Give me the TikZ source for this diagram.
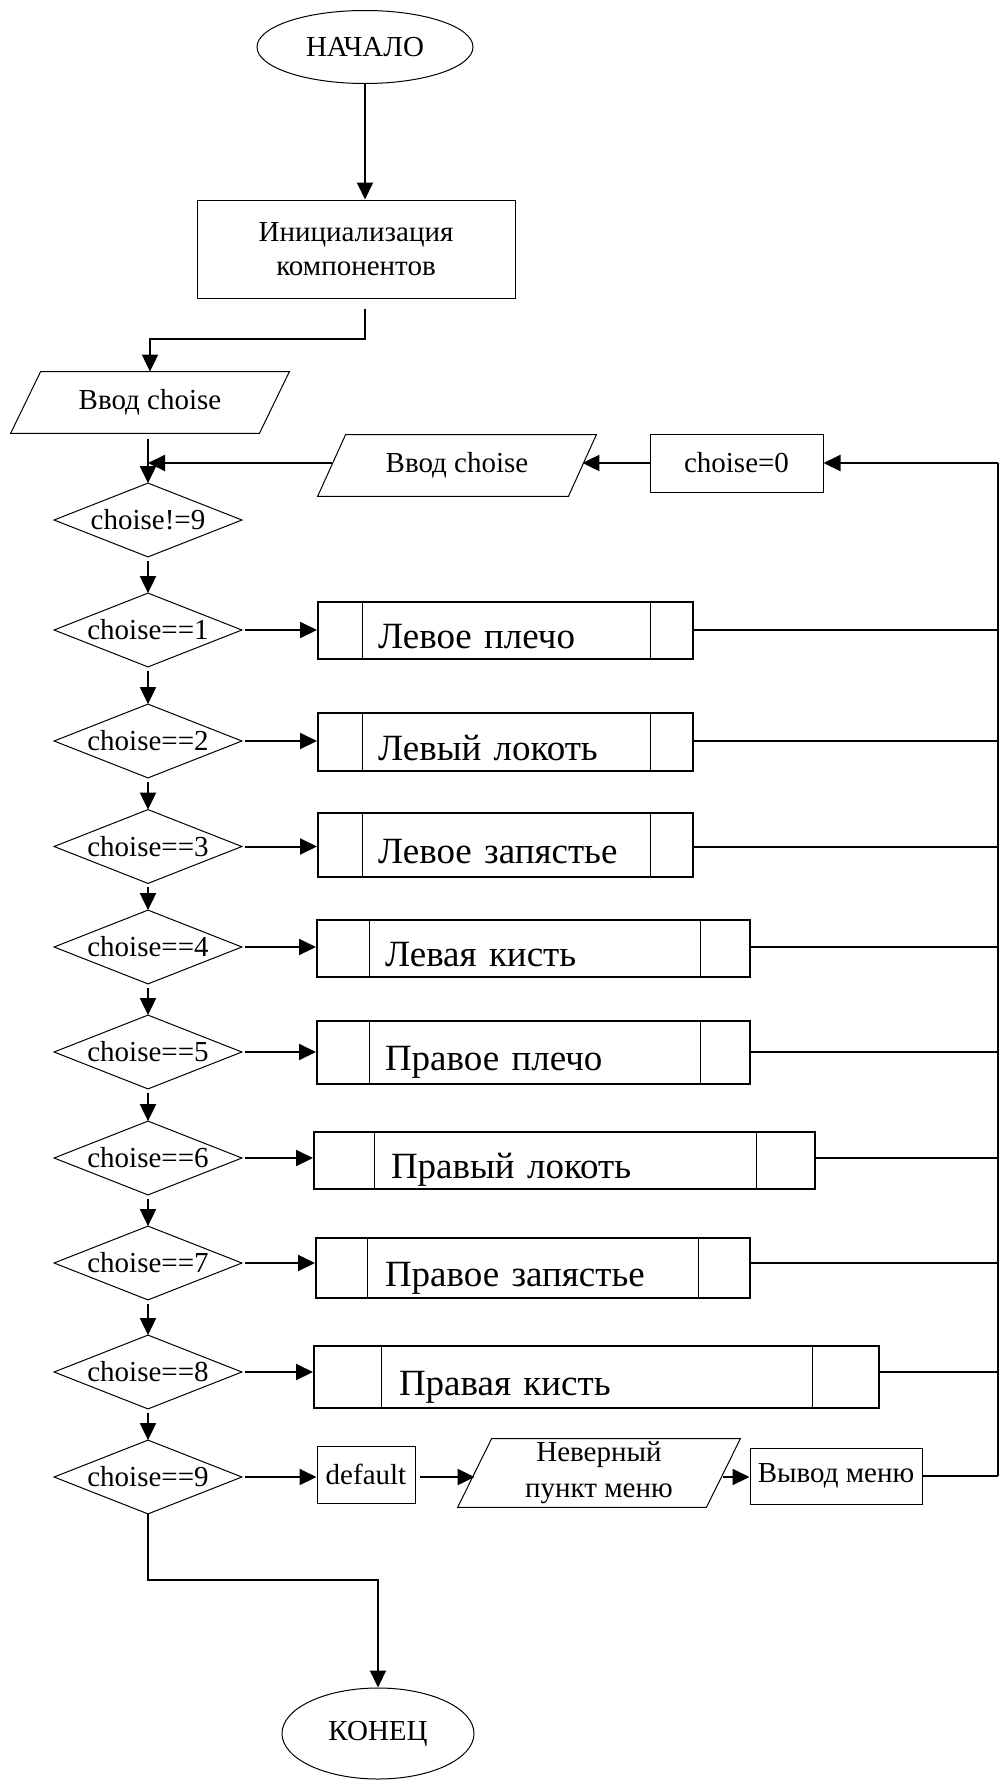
\documentclass[tikz,border=0pt]{standalone}
\usepackage{fontspec}
\setmainfont{Liberation Serif}
\usetikzlibrary{shapes.geometric,arrows.meta}
\begin{document}
\begin{tikzpicture}[x=0.5pt,y=-0.5pt,
  every node/.style={font=\fontsize{14.5}{17}\selectfont},
  shp/.style={draw, line width=0.5pt},
  term/.style={shp, ellipse, inner sep=0pt},
  box/.style={shp, rectangle, inner sep=0pt, align=center},
  io/.style={rectangle, inner sep=0pt, align=center},
  dec/.style={rectangle, inner sep=0pt, minimum width=93.5pt, minimum height=36.5pt},
  sub/.style={draw, line width=1pt, rectangle, inner ysep=0pt, align=left,
    text height=18pt, text depth=0pt, font=\fontsize{18.5}{22}\selectfont},
  conn/.style={line width=1pt},
  tip/.style={-{Triangle[length=8.5pt,width=8pt]}},
  arr/.style={conn, tip},
]
\path[use as bounding box] (0,0) rectangle (1003,1782);

% terminals and blocks
\node[term, minimum width=108pt, minimum height=36.5pt] (start) at (365,47) {НАЧАЛО};
\node[box, minimum width=159pt, minimum height=49pt] (init) at (356,249) {Инициализация\\компонентов};
\node[io, minimum width=124pt, minimum height=30.5pt] (in1) at (150,402.5) {Ввод choise};
\node[io, minimum width=125pt, minimum height=30.5pt] (in2) at (457,465.5) {Ввод choise};
\node[box, minimum width=86.5pt, minimum height=29pt] (zero) at (736.5,463) {choise=0};
\coordinate (railtop) at (998,463);
\coordinate (railbot) at (998,1476);

% decisions
\node[dec] (d0) at (148,520) {choise!=9};
\node[dec] (d1) at (148,630) {choise==1};
\node[dec] (d2) at (148,741) {choise==2};
\node[dec] (d3) at (148,846.5) {choise==3};
\node[dec] (d4) at (148,947) {choise==4};
\node[dec] (d5) at (148,1052) {choise==5};
\node[dec] (d6) at (148,1158) {choise==6};
\node[dec] (d7) at (148,1263) {choise==7};
\node[dec] (d8) at (148,1372) {choise==8};
\node[dec] (d9) at (148,1477) {choise==9};
\foreach \n in {d0,d1,d2,d3,d4,d5,d6,d7,d8,d9}
  \draw[shp] (\n.north) -- (\n.east) -- (\n.south) -- (\n.west) -- cycle;

% subprocesses
\node[sub, minimum width=187.5pt, minimum height=28.5pt, inner xsep=30pt, text width=127.5pt] (s1) at (505.5,630.5) {Левое плечо};
\node[sub, minimum width=187.5pt, minimum height=29pt, inner xsep=30pt, text width=127.5pt] (s2) at (505.5,742) {Левый локоть};
\node[sub, minimum width=187.5pt, minimum height=32pt, inner xsep=30pt, text width=127.5pt] (s3) at (505.5,845) {Левое запястье};
\node[sub, minimum width=216.5pt, minimum height=28.5pt, inner xsep=34pt, text width=148.5pt] (s4) at (533.5,948.5) {Левая кисть};
\node[sub, minimum width=216.5pt, minimum height=31.5pt, inner xsep=34pt, text width=148.5pt] (s5) at (533.5,1052.5) {Правое плечо};
\node[sub, minimum width=250.5pt, minimum height=28.5pt, inner xsep=38.5pt, text width=173.5pt] (s6) at (564.5,1160.5) {Правый локоть};
\node[sub, minimum width=217pt, minimum height=30pt, inner xsep=34.5pt, text width=148pt] (s7) at (533,1268) {Правое запястье};
\node[sub, minimum width=282.5pt, minimum height=31pt, inner xsep=42.5pt, text width=197.5pt] (s8) at (596.5,1377) {Правая кисть};
\foreach \n/\a/\b in {s1/22.5/22, s2/22.5/22, s3/22.5/22, s4/26.5/25.5, s5/26.5/25.5, s6/30.5/30, s7/26/26.5, s8/34/34}{
  \draw[shp] ([xshift=\a pt]\n.north west) -- ([xshift=\a pt]\n.south west);
  \draw[shp] ([xshift=-\b pt]\n.north east) -- ([xshift=-\b pt]\n.south east);
}

% default row
\node[box, minimum width=49pt, minimum height=28.5pt] (def) at (366,1474.5) {default};
\node[io, minimum width=124pt, minimum height=34pt, font=\fontsize{14.5}{18}\selectfont] (err) at (599,1473) {Неверный\\пункт меню};
\node[box, minimum width=86pt, minimum height=28pt] (vyv) at (836,1476) {Вывод меню};
\node[term, minimum width=96pt, minimum height=45.5pt] (end) at (378,1733.5) {КОНЕЦ};

% parallelogram outlines
\foreach \n/\s in {in1/7.5, in2/7, err/8.5}
  \draw[shp] ([xshift=\s pt]\n.north west) -- ([xshift=\s pt]\n.north east)
    -- ([xshift=-\s pt]\n.south east) -- ([xshift=-\s pt]\n.south west) -- cycle;

% connectors
\draw[arr] (start.south) -- (start.south |- init.north);
\draw[arr, shorten <=5pt] (init.south -| start.south) -- ++(0,40) -| (in1.north);
\draw[arr, shorten <=3pt] (in1.south -| d0.north) -- (d0.north);
\draw[arr] (railtop) -- (zero.east);
\draw[arr] (zero.west) -- (zero.west -| in2.east);
\draw[arr] (in2.west |- zero.west) -- (d0.north |- zero.west);
\foreach \a/\b in {d0/d1,d1/d2,d2/d3,d3/d4,d4/d5,d5/d6,d6/d7,d7/d8,d8/d9}
  \draw[arr, shorten <=2pt] (\a.south) -- (\b.north);
\foreach \d/\s in {d1/s1,d2/s2,d3/s3,d4/s4,d5/s5,d6/s6,d7/s7,d8/s8}{
  \draw[arr, shorten <=1.5pt] (\d.east) -- (\d.east -| \s.west);
  \draw[conn] (\s.east |- \d.east) -- (railtop |- \d.east);
}
\draw[arr, shorten <=1.5pt] (d9.east) -- (d9.east -| def.west);
\draw[arr, shorten <=2pt] (def.east |- d9.east) -- (err.west |- d9.east);
\draw[arr] (err.east |- d9.east) -- (vyv.west |- d9.east);
\draw[conn] (vyv.east |- railbot) -- (railbot);
\draw[conn] (railbot) -- (railtop);
\draw[arr] (d9.south) -- ++(0,66) -| (end.north);
\end{tikzpicture}
\end{document}
